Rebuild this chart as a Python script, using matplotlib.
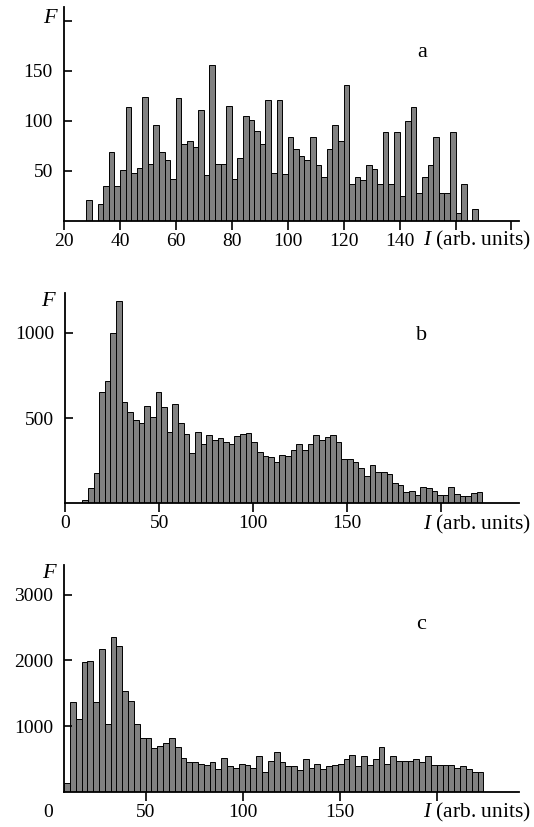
import matplotlib
matplotlib.use('Agg')
import matplotlib.pyplot as plt
import numpy as np

plt.rcParams['font.family'] = ['Liberation Serif', 'DejaVu Serif']
plt.rcParams['mathtext.fontset'] = 'custom'
plt.rcParams['mathtext.it'] = 'Liberation Serif:italic'
plt.rcParams['mathtext.rm'] = 'Liberation Serif'

# ---------------- data ----------------
# panel a: bins of width 2 starting at I = 28
a_start, a_width = 28, 2
a_values = [21, 0, 17, 35, 69, 35, 51, 114, 48, 53, 124, 57, 96, 69, 61, 42, 123, 77,
            80, 74, 111, 46, 156, 57, 57, 115, 42, 63, 105, 101, 90, 77, 121, 48, 121,
            47, 84, 72, 65, 61, 84, 56, 44, 72, 96, 80, 136, 37, 44, 41, 56, 52, 37,
            89, 37, 89, 25, 100, 114, 28, 44, 56, 84, 28, 28, 89, 8, 37, 0, 12]

# panel b: bins of width 3 starting at I = 9
b_start, b_width = 9, 3
b_values = [21, 88, 176, 656, 719, 996, 1187, 596, 535, 490, 473, 572, 504, 656, 564,
            418, 584, 471, 410, 295, 420, 350, 400, 371, 381, 361, 350, 393, 410, 414,
            363, 303, 281, 273, 246,
            283, 277, 312, 348, 312, 346, 400, 371, 391, 400, 359, 258, 258, 242, 209,
            164, 227, 186, 186, 172, 119, 111, 68, 74, 47, 96, 92, 74, 51, 51, 96, 53,
            43, 43, 62, 70]

# panel c: bins of width 3 starting at I = 8
c_start, c_width = 8, 3
c_values = [138, 1362, 1112, 1979, 1994, 1362, 2178, 1035, 2361, 2213, 1535, 1377, 1035,
            821, 821, 668, 699, 740, 826, 683, 515, 459, 459, 428, 413, 459, 342, 515,
            398, 372, 428, 413, 367, 551, 311, 464, 612, 459, 398,
            393, 332, 505, 362, 423, 347, 398, 413, 423, 505, 556, 388, 541, 408, 505,
            689, 423, 541, 469, 469, 469, 500, 449, 541, 413, 413, 413, 413, 362, 393,
            347, 301, 301]

a_xticks = [20, 40, 60, 80, 100, 120, 140, 160, 180]
a_xlabels = ['20', '40', '60', '80', '100', '120', '140', '', '']
a_yticks = [50, 100, 150, 200]
a_ylabels = ['50', '100', '150', '']

b_xticks = [0, 50, 100, 150, 200]
b_xlabels = ['0', '50', '100', '150', '']
b_yticks = [500, 1000]
b_ylabels = ['500', '1000']

c_xticks = [0, 50, 100, 150, 200]
c_xlabels = ['0', '50', '100', '150', '']
c_yticks = [1000, 2000, 3000]
c_ylabels = ['1000', '2000', '3000']

# ---------------- figure ----------------
W, H = 534, 827
fig = plt.figure(figsize=(W / 100, H / 100), dpi=100)


def rect(l, r, t, b):
    return [l / W, 1 - b / H, (r - l) / W, (b - t) / H]


BAR = '#818181'
FS = 14
FL = 15.5


def panel(r, start, width, values, xlim, ylim, xt, xl, yt, yl, letter, lpos,
          spine_at=None):
    ax = fig.add_axes(r)
    vals = np.asarray(values, dtype=float)
    edges = start + width * np.arange(len(vals))
    mask = vals > 0
    ax.bar(edges[mask], vals[mask], width=width, align='edge', color=BAR,
           edgecolor='black', linewidth=0.7)
    ax.set_xlim(*xlim)
    ax.set_ylim(*ylim)
    for s in ('top', 'right'):
        ax.spines[s].set_visible(False)
    for s in ('left', 'bottom'):
        ax.spines[s].set_linewidth(1.3)
    if spine_at is not None:
        ax.spines['left'].set_position(('data', spine_at))
        ax.spines['bottom'].set_bounds(spine_at, xlim[1])
    ax.set_xticks(xt)
    ax.set_xticklabels(xl)
    ax.set_yticks(yt)
    ax.set_yticklabels(yl)
    ax.tick_params(axis='y', direction='in', length=6, width=1.2, pad=8,
                   labelsize=FS)
    ax.tick_params(axis='x', direction='out', length=6.5, width=1.2, pad=2,
                   labelsize=FS)
    if spine_at is not None:
        ax.xaxis.get_major_ticks()[0].tick1line.set_visible(False)
    ax.text(lpos[0], lpos[1], letter, transform=ax.transAxes, ha='center',
            va='center', fontsize=16)
    return ax


ax_a = panel(rect(64, 518.7, 7, 220.7), a_start, a_width, a_values,
             (20, 182.6), (0, 213.8), a_xticks, a_xlabels, a_yticks, a_ylabels,
             'a', (0.787, 0.785))
ax_b = panel(rect(65.4, 518.7, 293, 503.5), b_start, b_width, b_values,
             (0, 241.4), (0, 1233), b_xticks, b_xlabels, b_yticks, b_ylabels,
             'b', (0.786, 0.80))
ax_c = panel(rect(48.5, 518.7, 565, 792), c_start, c_width, c_values,
             (0, 242.2), (0, 3449), c_xticks, c_xlabels, c_yticks, c_ylabels,
             'c', (0.792, 0.739), spine_at=8)


def ftext(x, y, s, fs=FS, **kw):
    fig.text(x / W, 1 - y / H, s, fontsize=fs, **kw)


# y-axis labels
ftext(51, 18.5, r'$F$', fs=16, ha='center', va='center')
ftext(49, 301, r'$F$', fs=16, ha='center', va='center')
ftext(50, 573, r'$F$', fs=16, ha='center', va='center')

# x-axis labels
ftext(531, 240, r'$I$ (arb. units)', fs=FL, ha='right', va='center')
ftext(531, 524, r'$I$ (arb. units)', fs=FL, ha='right', va='center')
ftext(531, 812, r'$I$ (arb. units)', fs=FL, ha='right', va='center')

fig.savefig('out.png', dpi=100)
